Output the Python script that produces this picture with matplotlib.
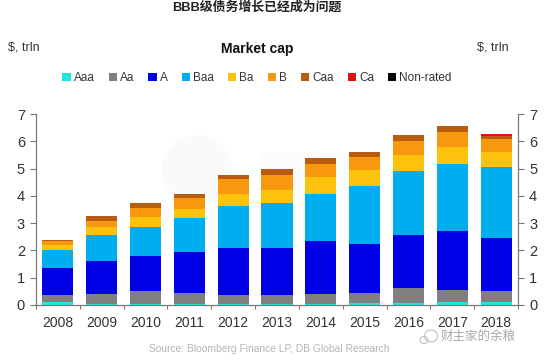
import matplotlib
matplotlib.use('Agg')
import matplotlib.pyplot as plt
from matplotlib.patches import Patch, Ellipse, Rectangle
import numpy as np

years = ['2008', '2009', '2010', '2011', '2012', '2013', '2014', '2015', '2016', '2017', '2018']
ratings = ['Aaa', 'Aa', 'A', 'Baa', 'Ba', 'B', 'Caa', 'Ca', 'Non-rated']
colors = ['#1fe6dc', '#808080', '#0000e6', '#00aeef', '#fdc20c', '#f7980f', '#b85c10', '#e60f0f', '#000000']

aaa = [0.10, 0.02, 0.02, 0.02, 0.02, 0.03, 0.03, 0.07, 0.08, 0.12, 0.10]
aa = [0.26, 0.40, 0.50, 0.41, 0.33, 0.35, 0.39, 0.37, 0.54, 0.42, 0.40]
a = [1.00, 1.18, 1.28, 1.50, 1.73, 1.72, 1.91, 1.81, 1.94, 2.18, 1.96]
baa = [0.67, 0.95, 1.05, 1.25, 1.55, 1.63, 1.75, 2.10, 2.34, 2.45, 2.59]
ba = [0.17, 0.30, 0.37, 0.35, 0.44, 0.50, 0.60, 0.58, 0.60, 0.61, 0.55]
b = [0.13, 0.23, 0.35, 0.40, 0.53, 0.52, 0.50, 0.49, 0.52, 0.55, 0.47]
caa = [0.07, 0.17, 0.18, 0.15, 0.18, 0.22, 0.22, 0.18, 0.21, 0.22, 0.13]
ca = [0, 0, 0, 0, 0, 0, 0, 0, 0, 0.02, 0.06]
non_rated = [0, 0, 0, 0, 0, 0, 0, 0, 0, 0, 0]
series = [aaa, aa, a, baa, ba, b, caa, ca, non_rated]

plt.rcParams['font.family'] = ['Liberation Sans', 'Noto Sans CJK SC', 'DejaVu Sans']
text_color = '#333333'
axis_color = '#777777'

W, H = 550, 361
fig = plt.figure(figsize=(W / 100, H / 100), dpi=100)

# faint site watermark behind the bars
fig.add_artist(Ellipse((197 / W, 1 - 170 / H), 70 / W, 70 / H, color='#f8fafc', lw=0, zorder=0))
fig.add_artist(Rectangle((260 / W, 1 - 200 / H), 90 / W, 48 / H, color='#f9fbfc', lw=0, zorder=0))

ax = fig.add_axes([36 / W, 1 - 305 / H, 482 / W, 191 / H])
ax.patch.set_alpha(0)

x = np.arange(len(years))
bottom = np.zeros(len(years))
for values, color in zip(series, colors):
    ax.bar(x, values, width=0.71, bottom=bottom, color=color, linewidth=0)
    bottom += np.array(values)

ax.set_xlim(-0.5, len(years) - 0.5)
ax.set_ylim(0, 7)
ax.set_yticks(range(8))
ax.set_xticks(np.arange(-0.5, len(years)))
ax.set_xticklabels([])
ax.set_xticks(x, minor=True)
ax.set_xticklabels(years, minor=True)
ax.tick_params(axis='x', which='major', length=3, width=0.8, color=axis_color)
ax.tick_params(axis='x', which='minor', length=0, pad=8, labelsize=10, labelcolor=text_color)
ax.tick_params(axis='y', length=4, width=0.8, color=axis_color, labelsize=10.5, labelcolor=text_color, pad=4)

ax2 = ax.twinx()
ax2.patch.set_alpha(0)
ax2.set_ylim(0, 7)
ax2.set_yticks(range(8))
ax2.tick_params(axis='y', length=4, width=0.8, color=axis_color, labelsize=10.5, labelcolor=text_color, pad=4)

for axis in (ax, ax2):
    axis.spines['top'].set_visible(False)
    for side in ('left', 'right', 'bottom'):
        axis.spines[side].set_color(axis_color)
        axis.spines[side].set_linewidth(0.8)

handles = [Patch(facecolor=c, linewidth=0) for c in colors]
fig.legend(handles, ratings, loc='center', bbox_to_anchor=(257 / W, 1 - 78 / H), ncol=len(ratings),
           frameon=False, fontsize=8.5, handlelength=0.7, handleheight=0.7, handletextpad=0.25,
           columnspacing=1.2, labelcolor=text_color, borderpad=0)

fig.text(257 / W, 1 - 8 / H, 'BBB级债务增长已经成为问题', ha='center', va='center',
         fontsize=9.3, fontweight='bold', color='#222222')
fig.text(257 / W, 1 - 49 / H, 'Market cap', ha='center', va='center', fontsize=10,
         fontweight='bold', color='#111111')
fig.text(8 / W, 1 - 47 / H, '$, trln', ha='left', va='center', fontsize=9, color=text_color)
fig.text(477 / W, 1 - 47 / H, '$, trln', ha='left', va='center', fontsize=9, color=text_color)
fig.text(149 / W, 1 - 349 / H, 'Source: Bloomberg Finance LP, DB Global Research', ha='left', va='center',
         fontsize=7.4, color='#b5b5b5')

# wechat mark at the lower right
fig.add_artist(Ellipse((431 / W, 1 - 336 / H), 13 / W, 12 / H, fill=False, ec='#b8b8b8', lw=0.7))
fig.add_artist(Ellipse((424 / W, 1 - 340 / H), 8 / W, 7 / H, fill=False, ec='#b8b8b8', lw=0.7))
fig.text(441 / W, 1 - 337 / H, '财主家的余粮', ha='left', va='center', fontsize=9, color='#a8a8a8')

fig.savefig('out.png', dpi=100)
